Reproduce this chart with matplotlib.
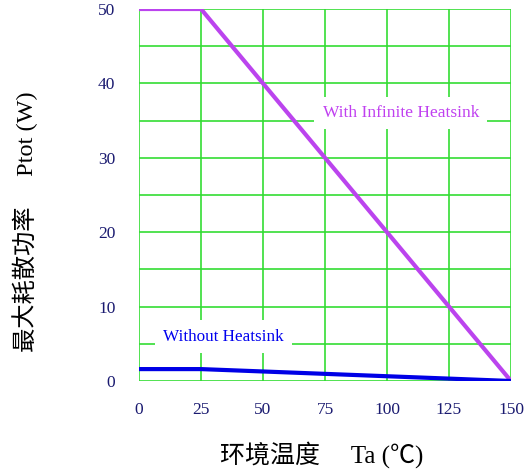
import matplotlib
matplotlib.use("Agg")
import matplotlib.pyplot as plt

# Data
temp_infinite = [0, 25, 150]
power_infinite = [50, 50, 0]
temp_none = [0, 25, 150]
power_none = [1.6, 1.6, 0]
x_ticks = [0, 25, 50, 75, 100, 125, 150]
y_ticks = [0, 10, 20, 30, 40, 50]
y_grid = [0, 5, 10, 15, 20, 25, 30, 35, 40, 45, 50]

serif = ['Liberation Serif', 'DejaVu Serif']
mixed = ['Liberation Serif', 'Noto Sans CJK SC', 'DejaVu Sans']

fig = plt.figure(figsize=(5.31, 4.75), dpi=100)
ax = fig.add_axes([139/531, 1-381/475, 372/531, 372/475])
ax.set_xlim(0, 150)
ax.set_ylim(0, 50)

grid_c = '#33dd33'
for xv in x_ticks:
    ax.axvline(xv, color=grid_c, lw=1.2, zorder=1)
for yv in y_grid:
    ax.axhline(yv, color=grid_c, lw=1.2, zorder=1)

for s in ax.spines.values():
    s.set_visible(False)

ax.plot(temp_infinite, power_infinite, color='#bb44ee', lw=3, zorder=4, solid_capstyle='butt')
ax.plot(temp_none, power_none, color='#0000e6', lw=3, zorder=4, solid_capstyle='butt')

ax.set_xticks(x_ticks)
ax.set_yticks(y_ticks)
ax.set_xticklabels([str(v) for v in x_ticks], family=serif, fontsize=12.5, color='#1a1a70')
ax.set_yticklabels([str(v) for v in y_ticks], family=serif, fontsize=12.5, color='#1a1a70')
ax.tick_params(length=0, pad=15)
ax.tick_params(axis='y', pad=17)

ax.text(105.6, 36.0, 'With Infinite Heatsink', family=serif, fontsize=12.5, color='#c040f0',
        ha='center', va='center', zorder=5,
        bbox=dict(facecolor='white', edgecolor='none', pad=6))
ax.text(34, 5.95, 'Without Heatsink', family=serif, fontsize=12.3, color='#0000ee',
        ha='center', va='center', zorder=5,
        bbox=dict(facecolor='white', edgecolor='none', pad=6))

fig.text(322/531, 1-455/475, '环境温度     Ta (℃)', family=mixed, fontsize=18, color='black',
         ha='center', va='center')
fig.text(25/531, 1-222/475, '最大耗散功率     Ptot (W)', family=mixed, fontsize=17.5, color='black',
         ha='center', va='center', rotation=90)

fig.savefig('out.png', dpi=100)
